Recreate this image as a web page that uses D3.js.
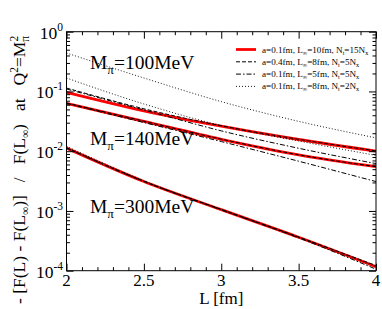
<!DOCTYPE html>
<html>
<head>
<meta charset="utf-8">
<script src="https://cdn.jsdelivr.net/npm/d3@7"></script>
<style>
  body { margin: 0; background: #fff; }
  svg { font-family: "Liberation Serif", "DejaVu Serif", serif; }
</style>
</head>
<body>
<div id="main"></div>
<script>
var Lvals = [2, 2.5, 3, 3.5, 4];

// M_pi = 100 MeV
var m100_ref    = [0.0962, 0.0473, 0.0262, 0.0157, 0.0100];
var m100_a04    = [0.114, 0.0513, 0.0266, 0.0158, 0.0101];
var m100_linf5  = [0.110, 0.0490, 0.0219, 0.0112, 0.0062];
var m100_nt2    = [0.44, 0.168, 0.0676, 0.0316, 0.0167];
// M_pi = 140 MeV
var m140_ref    = [0.0634, 0.0316, 0.0158, 0.0087, 0.0055];
var m140_a04    = [0.0640, 0.0318, 0.0159, 0.0087, 0.0055];
var m140_linf5  = [0.0630, 0.0302, 0.0145, 0.0068, 0.0031];
var m140_nt2    = [0.168, 0.0617, 0.0269, 0.0148, 0.0085];
// M_pi = 300 MeV
var m300_ref    = [0.01127, 0.00311, 0.00105, 0.000363, 0.000117];
var m300_a04    = [0.0114, 0.00314, 0.00106, 0.000366, 0.000122];
var m300_linf5  = [0.0113, 0.00310, 0.00104, 0.000355, 0.000106];
var m300_nt2    = [0.0121, 0.00320, 0.00106, 0.000362, 0.000117];

var xMajor = [2, 2.5, 3, 3.5, 4];
var xLabels = ["2", "2.5", "3", "3.5", "4"];
var yExp = [0, -1, -2, -3, -4];
var massLabels = [["100", 0.24], ["140", 0.0125], ["300", 0.00094]];

var W = 382, H = 309;
var pLeft = 66.5, pRight = 376, pTop = 31.7, pBottom = 270.7;

var svg = d3.select("#main").append("svg")
    .attr("width", W)
    .attr("height", H);

var x = d3.scaleLinear().domain([2, 4]).range([pLeft, pRight]);
var y = d3.scaleLog().domain([1e-4, 1]).range([pBottom, pTop]);

var line = d3.line()
    .x(function(d) { return x(d[0]); })
    .y(function(d) { return y(d[1]); })
    .curve(d3.curveMonotoneX);

function pts(vals) {
    return vals.map(function(v, i) { return [Lvals[i], v]; });
}

var styles = {
    ref:   { stroke: "#ff0000", w: 2.8, dash: null },
    a04:   { stroke: "#000", w: 1, dash: "4,2" },
    linf5: { stroke: "#000", w: 1, dash: "5,2,1.5,2" },
    nt2:   { stroke: "#000", w: 0.9, dash: "1,2" }
};

var series = [
    ["ref", m100_ref], ["ref", m140_ref], ["ref", m300_ref],
    ["a04", m100_a04], ["a04", m140_a04], ["a04", m300_a04],
    ["linf5", m100_linf5], ["linf5", m140_linf5], ["linf5", m300_linf5],
    ["nt2", m100_nt2], ["nt2", m140_nt2], ["nt2", m300_nt2]
];

var plot = svg.append("g");
plot.append("clipPath").attr("id", "clip")
    .append("rect").attr("x", pLeft).attr("y", pTop)
    .attr("width", pRight - pLeft).attr("height", pBottom - pTop);

plot.append("g").attr("clip-path", "url(#clip)")
    .selectAll("path")
    .data(series)
    .enter().append("path")
    .attr("d", function(d) { return line(pts(d[1])); })
    .attr("fill", "none")
    .attr("stroke", function(d) { return styles[d[0]].stroke; })
    .attr("stroke-width", function(d) { return styles[d[0]].w; })
    .attr("stroke-dasharray", function(d) { return styles[d[0]].dash; });

// axes, ticks pointing inward on all four sides
var xMinor = d3.range(2, 4.001, 0.1).filter(function(v) { return Math.abs(v * 2 - Math.round(v * 2)) > 1e-6; });
var yMajor = yExp.map(function(e) { return Math.pow(10, e); });
var yMinor = y.ticks().filter(function(v) {
    return yMajor.every(function(m) { return Math.abs(v / m - 1) > 1e-6; });
});

function axisGroup(axis, tx, ty) {
    var g = svg.append("g").attr("transform", "translate(" + tx + "," + ty + ")").call(axis);
    g.select(".domain").remove();
    g.selectAll("line").attr("stroke", "#000");
    return g;
}
axisGroup(d3.axisBottom(x).tickValues(xMajor).tickSize(-7).tickFormat(""), 0, pBottom);
axisGroup(d3.axisBottom(x).tickValues(xMinor).tickSize(-3.5).tickFormat(""), 0, pBottom);
axisGroup(d3.axisTop(x).tickValues(xMajor).tickSize(-7).tickFormat(""), 0, pTop);
axisGroup(d3.axisTop(x).tickValues(xMinor).tickSize(-3.5).tickFormat(""), 0, pTop);
axisGroup(d3.axisLeft(y).tickValues(yMajor).tickSize(-7).tickFormat(""), pLeft, 0);
axisGroup(d3.axisLeft(y).tickValues(yMinor).tickSize(-3.5).tickFormat(""), pLeft, 0);
axisGroup(d3.axisRight(y).tickValues(yMajor).tickSize(-7).tickFormat(""), pRight, 0);
axisGroup(d3.axisRight(y).tickValues(yMinor).tickSize(-3.5).tickFormat(""), pRight, 0);

svg.append("rect")
    .attr("x", pLeft).attr("y", pTop)
    .attr("width", pRight - pLeft).attr("height", pBottom - pTop)
    .attr("fill", "none").attr("stroke", "#000").attr("stroke-width", 1);

// tick labels
svg.append("g").selectAll("text")
    .data(xMajor)
    .enter().append("text")
    .attr("x", function(d) { return x(d); })
    .attr("y", pBottom + 15.5)
    .attr("text-anchor", "middle")
    .attr("font-size", 17)
    .text(function(d, i) { return xLabels[i]; });

var yl = svg.append("g").selectAll("text")
    .data(yExp)
    .enter().append("text")
    .attr("x", 63)
    .attr("y", function(d) { return y(Math.pow(10, d)) + 7; })
    .attr("text-anchor", "end")
    .attr("font-size", 17.5);
yl.append("tspan").text("10");
yl.append("tspan").attr("dy", -8).attr("font-size", 11.5)
    .text(function(d) { return d === 0 ? "0" : "-" + (-d); });

svg.append("text")
    .attr("x", x(3)).attr("y", 303.5)
    .attr("text-anchor", "middle")
    .attr("font-size", 17)
    .text("L [fm]");

// rotated y title
var yt = svg.append("text")
    .attr("transform", "translate(24.5,304) rotate(-90)")
    .attr("font-size", 17.5)
    .attr("xml:space", "preserve");
yt.append("tspan").text("- [F(L) - F(L");
yt.append("tspan").attr("dy", 4).attr("font-size", 11.5).text("\u221e");
yt.append("tspan").attr("dy", -4).text(")]");
yt.append("tspan").attr("dx", 13).text("/");
yt.append("tspan").attr("dx", 13).text("F(L");
yt.append("tspan").attr("dy", 4).attr("font-size", 11.5).text("\u221e");
yt.append("tspan").attr("dy", -4).text(")");
yt.append("tspan").attr("dx", 13).text("at");
yt.append("tspan").attr("dx", 13).text("Q");
yt.append("tspan").attr("dy", -7).attr("font-size", 11.5).text("2");
yt.append("tspan").attr("dy", 7).text("=M");
yt.append("tspan").attr("dy", -7).attr("font-size", 11.5).text("2");
yt.append("tspan").attr("dx", -6).attr("dy", 11).attr("font-size", 11.5).text("\u03c0");

// mass labels
var ml = svg.append("g").selectAll("text")
    .data(massLabels)
    .enter().append("text")
    .attr("x", 90)
    .attr("y", function(d) { return y(d[1]); })
    .attr("font-size", 19.5);
ml.append("tspan").text("M");
ml.append("tspan").attr("dy", 5).attr("font-size", 13).text("\u03c0");
ml.append("tspan").attr("dy", -5).text(function(d) { return "=" + d[0] + "MeV"; });

// legend
var legendRows = [
    ["ref", "0.1", "10", "15"],
    ["a04", "0.4", "8", "5"],
    ["linf5", "0.1", "5", "5"],
    ["nt2", "0.1", "8", "2"]
];
var lg = svg.append("g").selectAll("g")
    .data(legendRows)
    .enter().append("g")
    .attr("transform", function(d, i) { return "translate(0," + (49.5 + i * 12.3) + ")"; });
lg.append("line")
    .attr("x1", 236).attr("x2", 256)
    .attr("stroke", function(d) { return styles[d[0]].stroke; })
    .attr("stroke-width", function(d) { return styles[d[0]].w; })
    .attr("stroke-dasharray", function(d) { return styles[d[0]].dash; });
var lt = lg.append("text")
    .attr("x", 262).attr("y", 3)
    .attr("font-size", 9.1);
lt.append("tspan").text(function(d) { return "a=" + d[1] + "fm, L"; });
lt.append("tspan").attr("dy", 2).attr("font-size", 6.2).text("\u221e");
lt.append("tspan").attr("dy", -2).text(function(d) { return "=" + d[2] + "fm, N"; });
lt.append("tspan").attr("dy", 2).attr("font-size", 6.2).text("t");
lt.append("tspan").attr("dy", -2).text(function(d) { return "=" + d[3] + "N"; });
lt.append("tspan").attr("dy", 2).attr("font-size", 6.2).text("x");
</script>
</body>
</html>
